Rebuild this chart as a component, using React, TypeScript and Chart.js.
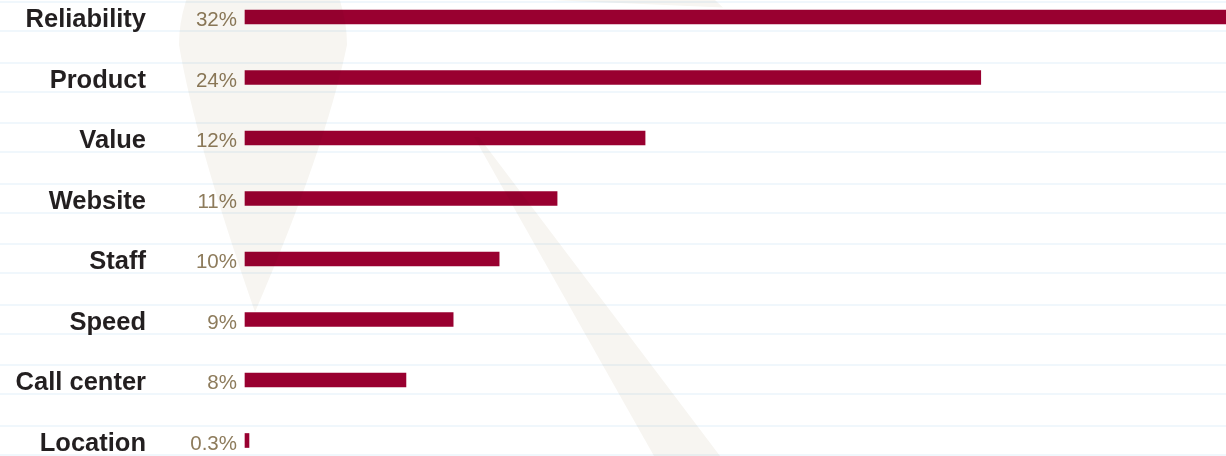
import React, { useEffect, useRef } from "react";
import { Chart, registerables } from "chart.js";

Chart.register(...registerables);

const categories = ["Reliability", "Product", "Value", "Website", "Staff", "Speed", "Call center", "Location"];
const barValues = [32, 24, 13.05, 10.18, 8.29, 6.79, 5.25, 0.13];
const valueLabels = ["32%", "24%", "12%", "11%", "10%", "9%", "8%", "0.3%"];

const BAR_COLOR = "#990030";
const LABEL_COLOR = "#231f20";
const PCT_COLOR = "#8d7b5b";
const LINE_COLOR = "#f0f7fc";
const MARK_COLOR = "#f7f5f1";

const rulesPlugin = {
  id: "rules",
  beforeDatasetsDraw(chart: any) {
    const { ctx, width } = chart;
    const y = chart.scales.y;
    ctx.save();
    ctx.strokeStyle = LINE_COLOR;
    ctx.lineWidth = 2;
    categories.forEach((_, i) => {
      const c = y.getPixelForValue(i);
      [c - 15, c + 14].forEach((yy) => {
        ctx.beginPath();
        ctx.moveTo(0, Math.round(yy));
        ctx.lineTo(width, Math.round(yy));
        ctx.stroke();
      });
    });
    ctx.restore();
  },
};

const labelsPlugin = {
  id: "labels",
  afterDatasetsDraw(chart: any) {
    const { ctx } = chart;
    const y = chart.scales.y;
    ctx.save();
    ctx.textAlign = "right";
    ctx.textBaseline = "alphabetic";
    categories.forEach((cat, i) => {
      const c = y.getPixelForValue(i);
      ctx.fillStyle = LABEL_COLOR;
      ctx.font = "bold 25.5px 'Liberation Sans', Arial, sans-serif";
      ctx.fillText(cat, 146, c + 10);
      ctx.fillStyle = PCT_COLOR;
      ctx.font = "20.5px 'Liberation Sans', Arial, sans-serif";
      ctx.fillText(valueLabels[i], 237, c + 9);
    });
    ctx.restore();
  },
};

const watermarkPlugin = {
  id: "watermark",
  afterDraw(chart: any) {
    const { ctx } = chart;
    ctx.save();
    ctx.globalCompositeOperation = "multiply";
    ctx.fillStyle = MARK_COLOR;
    // teardrop
    ctx.beginPath();
    ctx.moveTo(255, 312);
    ctx.quadraticCurveTo(195, 140, 179, 45);
    ctx.ellipse(263, 45, 84, 110, 0, Math.PI, 0, false);
    ctx.quadraticCurveTo(325, 150, 255, 312);
    ctx.closePath();
    ctx.fill();
    // wedge
    ctx.beginPath();
    ctx.moveTo(474, 137);
    ctx.lineTo(479, 137);
    ctx.lineTo(720, 456);
    ctx.lineTo(654, 456);
    ctx.closePath();
    ctx.fill();
    // top sliver
    ctx.beginPath();
    ctx.moveTo(550, 0);
    ctx.lineTo(715, 0);
    ctx.lineTo(723, 7.5);
    ctx.closePath();
    ctx.fill();
    ctx.restore();
  },
};

export default function App() {
  const ref = useRef<HTMLCanvasElement>(null);
  useEffect(() => {
    if (!ref.current) return;
    const chart = new Chart(ref.current, {
      type: "bar",
      data: {
        labels: categories,
        datasets: [
          {
            data: barValues,
            backgroundColor: BAR_COLOR,
            borderWidth: 0,
            barThickness: 14,
            clip: false as any,
          },
        ],
      },
      options: {
        indexAxis: "y",
        animation: false,
        responsive: false,
        maintainAspectRatio: false,
        layout: { padding: { left: 245, right: 0, top: 17, bottom: 15.5 } },
        plugins: { legend: { display: false }, tooltip: { enabled: false } },
        scales: {
          x: { display: false, min: 0, max: 32 },
          y: { display: false, offset: false, grid: { display: false } },
        },
      },
      plugins: [rulesPlugin, labelsPlugin, watermarkPlugin],
    });
    return () => chart.destroy();
  }, []);
  return (
    <div style={{ position: "absolute", left: 0, top: 0, width: 1226, height: 456, background: "#fff" }}>
      <canvas ref={ref} width={1226} height={456} />
    </div>
  );
}
